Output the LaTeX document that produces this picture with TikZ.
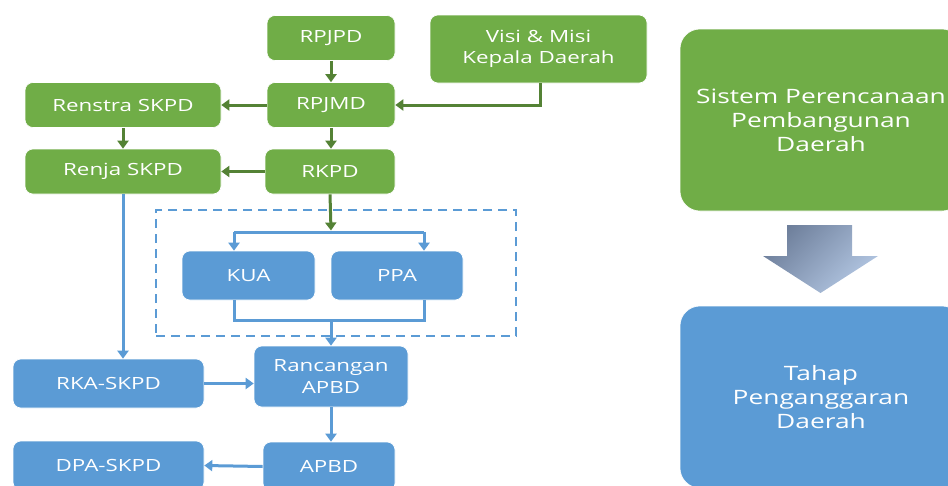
\documentclass[tikz,border=0pt]{standalone}
\usepackage{fontspec}
\setmainfont{Open Sans}[FakeStretch=1.33]
\usetikzlibrary{arrows.meta}
\definecolor{pgreen}{HTML}{70AD47}
\definecolor{pblue}{HTML}{5B9BD5}
\definecolor{dgreen}{HTML}{548235}
\definecolor{shadetop}{HTML}{6E7F9B}
\definecolor{shadebot}{HTML}{B4C8E4}
\tikzset{gbox/.style={
    rectangle,
    draw=white,
    line width=0.6pt,
    rounded corners=8pt,
    text=white,
    align=center,
    inner sep=0pt,
    font=\fontsize{16.8}{21.5}\selectfont,
    minimum height=45pt
  },
  greenbox/.style={gbox,fill=pgreen},
  bluebox/.style={gbox,fill=pblue,minimum height=49pt},
  bigbox/.style={gbox,rounded corners=20pt,font=\fontsize{19.8}{24}\selectfont,
    minimum width=282pt,minimum height=182pt},
  dashbox/.style={rectangle,draw=pblue,line width=2pt,dash pattern=on 9pt off 6pt,
    inner sep=0pt},
  garrow/.style={draw=dgreen,line width=3pt,-{Triangle[width=11pt,length=8pt]}},
  bline/.style={draw=pblue,line width=3pt},
  barrow/.style={bline,-{Triangle[width=11pt,length=8pt]}},
}
\begin{document}
\begin{tikzpicture}[x=1pt,y=-1pt]
  \useasboundingbox (0,0) rectangle (948,485);
  \clip (0,0) rectangle (948,485);
  % planning
  \node [greenbox,minimum width=128pt] (rpjpd) at (331,38) {RPJPD};
  \node [greenbox,minimum width=217pt,minimum height=68pt] (visi) at (538.5,49) {Visi \& Misi\\Kepala Daerah};
  \node [greenbox,minimum width=196pt] (renstra) at (123,105) {Renstra SKPD};
  \node [greenbox,minimum width=128pt] (rpjmd) at (331,105) {RPJMD};
  \node [greenbox,minimum width=196pt] (renja) at (123,171.5) {Renja SKPD};
  \node [greenbox,minimum width=130pt] (rkpd) at (330,171.5) {RKPD};
  % budgeting
  \node [dashbox,minimum width=360pt,minimum height=126pt] (frame) at (336,273) {};
  \node [bluebox,minimum width=133pt] (kua) at (248.5,275.5) {KUA};
  \node [bluebox,minimum width=132pt] (ppa) at (397,275.5) {PPA};
  \node [bluebox,minimum width=154pt,minimum height=61pt] (ranc) at (331,376.5) {Rancangan\\APBD};
  \node [bluebox,minimum width=191pt] (rka) at (108.5,383.5) {RKA-SKPD};
  \node [bluebox,minimum width=191pt] (dpa) at (108.5,465.5) {DPA-SKPD};
  \node [bluebox,minimum width=132pt] (apbd) at (329,466.5) {APBD};
  \coordinate (split) at (331,232);
  \coordinate (merge) at (331,320);
  % right side
  \node [bigbox,fill=pgreen] (sistem) at (821,120) {Sistem Perencanaan\\Pembangunan\\Daerah};
  \node [bigbox,fill=pblue] (tahap) at (821,397) {Tahap\\Penganggaran\\Daerah};
  \shade [top color=shadetop,bottom color=shadebot,shading angle=45]
  (787,225) -- (852,225) -- (852,256) -- (878,256) -- (820.5,293)
  -- (763,256) -- (787,256) -- cycle;
  % connectors
  \draw[garrow] (rpjpd) -- (rpjmd);
  \draw[garrow] (rpjmd) -- (renstra);
  \draw[garrow] (renstra) -- (renja);
  \draw[garrow] (rpjmd.south) -- (rpjmd.south |- rkpd.north);
  \draw[garrow] (rkpd) -- (renja);
  \draw[garrow,rounded corners=0pt] ([xshift=1.5pt]visi.south) |- (rpjmd.east);
  \draw[bline] ([xshift=-14.5pt]kua.north |- split) -- ([xshift=27pt]ppa.north |- split);
  \draw[barrow] ([xshift=-14.5pt]kua.north |- split) -- ([xshift=-14.5pt]kua.north);
  \draw[barrow] ([xshift=27pt]ppa.north |- split) -- ([xshift=27pt]ppa.north);
  \draw[garrow] (rkpd.south |- rkpd.south) -- ([yshift=1.5pt]split);
  \draw[bline] ([xshift=-14.5pt]kua.south) |- (merge) -| ([xshift=27pt]ppa.south);
  \draw[barrow] (merge) -- (ranc.north);
  \draw[barrow] (renja.south) -- (renja.south |- rka.north);
  \draw[barrow] (rka.east) -- (ranc.west |- rka.east);
  \draw[barrow] (ranc.south) -- (ranc.south |- apbd.north);
  \draw[barrow] (apbd.west) -- (dpa.east);
\end{tikzpicture}
\end{document}
